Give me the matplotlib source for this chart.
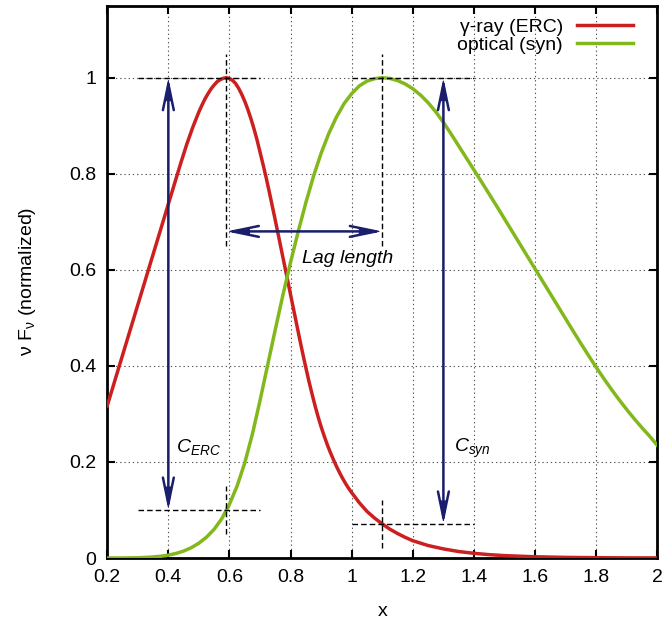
import matplotlib
matplotlib.use('Agg')
import matplotlib.pyplot as plt
from matplotlib.patches import FancyArrowPatch

plt.rcParams['font.family'] = ['Liberation Sans', 'DejaVu Sans']
plt.rcParams['mathtext.fontset'] = 'custom'
plt.rcParams['mathtext.rm'] = 'Liberation Sans'
plt.rcParams['mathtext.it'] = 'Liberation Sans:italic'

# ---- data ----
red_x = [0.200, 0.250, 0.300, 0.350, 0.400, 0.430, 0.440, 0.450, 0.460, 0.470,
         0.480, 0.490, 0.500, 0.510, 0.520, 0.530, 0.540, 0.550, 0.560, 0.570,
         0.580, 0.590, 0.600, 0.610, 0.620, 0.630, 0.640, 0.650, 0.660, 0.670,
         0.680, 0.690, 0.700, 0.710, 0.720, 0.730, 0.740, 0.750, 0.760, 0.770,
         0.780, 0.790, 0.800, 0.810, 0.820, 0.830, 0.840, 0.850, 0.860, 0.870,
         0.880, 0.890, 0.900, 0.910, 0.920, 0.930, 0.940, 0.950, 0.960, 0.970,
         0.980, 0.990, 1.000, 1.025, 1.050, 1.075, 1.100, 1.125, 1.150, 1.175,
         1.200, 1.250, 1.300, 1.350, 1.400, 1.450, 1.500, 1.600, 1.700, 1.800,
         1.900, 2.000]
red_y = [0.317, 0.422, 0.527, 0.632, 0.737, 0.800, 0.821, 0.841, 0.861, 0.879,
         0.897, 0.913, 0.929, 0.943, 0.956, 0.967, 0.977, 0.985, 0.992, 0.996,
         0.999, 1.000, 0.9985, 0.9945, 0.988, 0.978, 0.9655, 0.951, 0.934, 0.915,
         0.894, 0.871, 0.845, 0.819, 0.792, 0.763, 0.733, 0.703, 0.672, 0.641,
         0.610, 0.579, 0.548, 0.517, 0.486, 0.455, 0.425, 0.396, 0.368, 0.342,
         0.317, 0.294, 0.273, 0.254, 0.236, 0.220, 0.205, 0.191, 0.178, 0.166,
         0.155, 0.145, 0.136, 0.115, 0.097, 0.083, 0.071, 0.060, 0.051, 0.043,
         0.036, 0.026, 0.019, 0.0135, 0.0098, 0.007, 0.005, 0.0026, 0.0013, 0.0007,
         0.0003, 0.0002]

green_x = [0.200, 0.250, 0.300, 0.325, 0.350, 0.375, 0.400, 0.425, 0.450, 0.475,
           0.500, 0.525, 0.550, 0.575, 0.600, 0.625, 0.650, 0.675, 0.700, 0.725,
           0.750, 0.775, 0.800, 0.825, 0.850, 0.875, 0.900, 0.925, 0.950, 0.975,
           1.000, 1.025, 1.050, 1.075, 1.100, 1.125, 1.150, 1.175, 1.200, 1.225,
           1.250, 1.275, 1.300, 1.325, 1.350, 1.375, 1.400, 1.425, 1.450, 1.475,
           1.500, 1.525, 1.550, 1.575, 1.600, 1.625, 1.650, 1.675, 1.700, 1.725,
           1.750, 1.775, 1.800, 1.825, 1.850, 1.875, 1.900, 1.925, 1.950, 1.975,
           2.000]
green_y = [0.0000, 0.0001, 0.0006, 0.0012, 0.0022, 0.0037, 0.0060, 0.0095, 0.0145, 0.0215,
           0.031, 0.0435, 0.060, 0.082, 0.112, 0.150, 0.198, 0.258, 0.328, 0.402,
           0.476, 0.548, 0.616, 0.680, 0.740, 0.795, 0.843, 0.884, 0.918, 0.946,
           0.967, 0.983, 0.993, 0.998, 1.000, 0.9985, 0.994, 0.987, 0.977, 0.964,
           0.948, 0.929, 0.907, 0.883, 0.858, 0.833, 0.808, 0.783, 0.7575, 0.732,
           0.706, 0.680, 0.654, 0.628, 0.602, 0.576, 0.550, 0.524, 0.498, 0.472,
           0.4465, 0.4215, 0.397, 0.3735, 0.351, 0.3295, 0.309, 0.2895, 0.271, 0.2535,
           0.2345]

series_labels = ['γ-ray (ERC)', 'optical (syn)']

xticks = [0.2, 0.4, 0.6, 0.8, 1.0, 1.2, 1.4, 1.6, 1.8, 2.0]
xtick_labels = ['0.2', '0.4', '0.6', '0.8', '1', '1.2', '1.4', '1.6', '1.8', '2']
yticks = [0, 0.2, 0.4, 0.6, 0.8, 1.0]
ytick_labels = ['0', '0.2', '0.4', '0.6', '0.8', '1']

# peak positions and reference levels
peak_erc = 0.59
peak_syn = 1.10
erc_at_syn_peak = 0.071
syn_at_erc_peak = 0.10

# ---- figure ----
RED = '#cc2020'
GREEN = '#82b81c'
NAVY = '#1b1f6b'
FS = 14

fig = plt.figure(figsize=(6.66, 6.23), dpi=100)
ax = fig.add_axes([0.161, 0.1043, 0.826, 0.8866])

ax.set_xlim(0.2, 2.0)
ax.set_ylim(0, 1.15)

ax.grid(True, linestyle=(0, (1.2, 2.6)), color='#555555', linewidth=0.8)
ax.set_axisbelow(True)

l1, = ax.plot(red_x, red_y, color=RED, lw=2.5, zorder=3, label=series_labels[0],
              solid_joinstyle='round')
l2, = ax.plot(green_x, green_y, color=GREEN, lw=2.5, zorder=3, label=series_labels[1],
              solid_joinstyle='round')

dash = dict(color='black', lw=1.0, linestyle=(0, (4, 2.2)), zorder=4)
# top guides
ax.plot([0.3, 0.7], [1.0, 1.0], **dash)
ax.plot([peak_erc, peak_erc], [0.65, 1.05], **dash)
ax.plot([1.0, 1.4], [1.0, 1.0], **dash)
ax.plot([peak_syn, peak_syn], [0.65, 1.05], **dash)
# bottom guides
ax.plot([0.3, 0.7], [syn_at_erc_peak, syn_at_erc_peak], **dash)
ax.plot([peak_erc, peak_erc], [syn_at_erc_peak - 0.05, syn_at_erc_peak + 0.05], **dash)
ax.plot([1.0, 1.4], [erc_at_syn_peak, erc_at_syn_peak], **dash)
ax.plot([peak_syn, peak_syn], [erc_at_syn_peak - 0.05, erc_at_syn_peak + 0.05], **dash)


def arrow(p0, p1):
    a = FancyArrowPatch(p0, p1, arrowstyle='<->,head_length=1.35,head_width=0.28',
                        mutation_scale=14, color=NAVY, lw=1.8,
                        shrinkA=0, shrinkB=0, zorder=5)
    ax.add_patch(a)
    b = FancyArrowPatch(p0, p1, arrowstyle='<|-|>,head_length=1.0,head_width=0.16',
                        mutation_scale=14, color=NAVY, lw=0.8,
                        shrinkA=0, shrinkB=0, zorder=5)
    ax.add_patch(b)


arrow((0.4, syn_at_erc_peak), (0.4, 1.0))
arrow((1.3, erc_at_syn_peak), (1.3, 1.0))
arrow((peak_erc, 0.68), (peak_syn, 0.68))

ax.text(0.836, 0.615, 'Lag length', fontsize=FS, style='italic', ha='left', va='baseline')
ax.text(0.425, 0.221, r'$C_{ERC}$', fontsize=FS, ha='left', va='baseline')
ax.text(1.336, 0.221, r'$C_{syn}$', fontsize=FS, ha='left', va='baseline')

ax.set_xticks(xticks)
ax.set_xticklabels(xtick_labels)
ax.set_yticks(yticks)
ax.set_yticklabels(ytick_labels)
ax.tick_params(direction='in', length=6, width=1.5, top=True, right=True,
               labelsize=FS, pad=8)
for s in ax.spines.values():
    s.set_linewidth(2)

ax.set_xlabel('x', fontsize=FS, labelpad=12)
ax.set_ylabel('ν F$_{\\mathregular{ν}}$ (normalized)', fontsize=FS, labelpad=22)

ax.legend(handles=[l1, l2], loc='upper right', frameon=False, markerfirst=False,
          fontsize=FS, handlelength=2.9, handletextpad=0.7, labelspacing=0.05,
          borderaxespad=0, borderpad=0,
          bbox_to_anchor=(633 / 666, (623 - 18) / 623), bbox_transform=fig.transFigure)

fig.savefig('out.png', dpi=100)
